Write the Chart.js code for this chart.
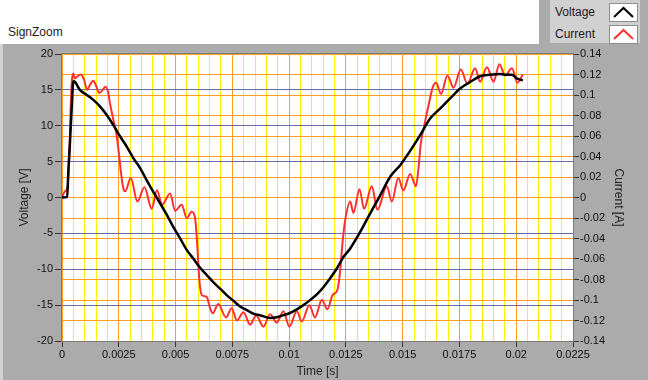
<!DOCTYPE html>
<html>
<head>
<meta charset="utf-8">
<script src="https://cdn.jsdelivr.net/npm/chart.js@4.4.1/dist/chart.umd.min.js"></script>
<style>
  html, body { margin: 0; padding: 0; background: #fff; }
  body { width: 648px; height: 380px; position: relative; overflow: hidden;
         font-family: "Liberation Sans", Arial, sans-serif; color: #1b1b1b; }
  #graphName { position: absolute; left: 8px; top: 25px; font-size: 12px; }
  #panel { position: absolute; left: 0; top: 44px; width: 648px; height: 336px; background: #ababab; }
  #panel .edge { position: absolute; left: 0; top: 0; width: 3px; height: 336px; background: #d2d2d2; }
  #panel canvas { position: absolute; left: 0; top: 0; }
  #legend { position: absolute; left: 539px; top: 0; width: 109px; height: 45px; background: #ababab; }
  #legendInner { position: absolute; left: 11px; top: 0; width: 90px; height: 43px; background: #d0d0d0; }
  .row { position: absolute; left: 5px; font-size: 12px; }
  .row span { position: absolute; left: 0; top: 0; }
  .row svg { position: absolute; left: 54px; top: 0; background: #fff; border: 1px solid #8c8c8c; }
</style>
</head>
<body>
<div id="graphName">SignZoom</div>
<div id="legend">
  <div id="legendInner">
    <div class="row" style="top:3px"><span style="top:2px">Voltage</span>
      <svg width="27" height="17"><polyline points="4,13 13.5,4 23,13" fill="none" stroke="#000" stroke-width="2"/></svg></div>
    <div class="row" style="top:25px"><span style="top:2px">Current</span>
      <svg width="27" height="17"><polyline points="4,13 13.5,4 23,13" fill="none" stroke="#ff3333" stroke-width="2"/></svg></div>
  </div>
</div>
<div id="panel"><div class="edge"></div><canvas id="graph" width="648" height="336"></canvas></div>

<script>
// Voltage trace (black, left axis) - time [s] / voltage [V]
const timeV = [0, 0.00023, 0.00028, 0.00035, 0.00043, 0.0005, 0.00057, 0.00079, 0.00109, 0.00138, 0.00167,
  0.00197, 0.00226, 0.00256, 0.00285, 0.00314, 0.00344, 0.00373, 0.00402, 0.00432, 0.00461,
  0.0049, 0.0052, 0.00549, 0.00578, 0.00608, 0.00637, 0.00666, 0.00696, 0.00725, 0.00755,
  0.00784, 0.00814, 0.00843, 0.00872, 0.00916, 0.00946, 0.00975, 0.01004, 0.01034, 0.01063,
  0.01092, 0.01122, 0.01151, 0.0118, 0.0121, 0.01239, 0.01269, 0.01313, 0.01357, 0.01401,
  0.01445, 0.01489, 0.01533, 0.01577, 0.01621, 0.01665, 0.01709, 0.01753, 0.01797, 0.01841,
  0.01885, 0.01929, 0.01959, 0.01981, 0.02003, 0.02029];
const voltage = [0, 0.1, 3.8, 7.6, 12.7, 16.2, 16.1, 15.0, 14.3, 13.6, 12.7,
  11.5, 10.1, 8.5, 7.1, 5.5, 4.1, 2.4, 0.8, -0.8, -2.4,
  -4.1, -5.7, -7.3, -8.5, -9.8, -10.8, -11.8, -12.7, -13.6, -14.4,
  -15.2, -15.7, -16.2, -16.4, -16.8, -16.7, -16.4, -16.1, -15.6, -15.0,
  -14.3, -13.5, -12.5, -11.3, -9.9, -8.3, -7.1, -4.8, -2.2, 0.3,
  2.9, 4.5, 6.5, 8.7, 11.0, 12.4, 13.8, 15.2, 16.1, 16.9,
  17.1, 17.2, 17.1, 17.1, 16.6, 16.3];

// Current trace (red, right axis) - time [s] / current [A]
const timeI = [0, 0.00013, 0.00023, 0.00032, 0.00038, 0.00044, 0.0005, 0.00057, 0.00067, 0.00082,
  0.00097, 0.00111, 0.00123, 0.00138, 0.0015, 0.00164, 0.00176, 0.00191, 0.00204, 0.00211,
  0.00226, 0.00241, 0.00252, 0.0026, 0.0027, 0.00278, 0.00303, 0.00332, 0.00363, 0.00395,
  0.00418, 0.00441, 0.00476, 0.00498, 0.00527, 0.00549, 0.00571, 0.00586, 0.00596, 0.00605,
  0.00615, 0.00637, 0.00652, 0.00664, 0.00688, 0.00722, 0.00747, 0.0077, 0.00799, 0.00828,
  0.00855, 0.00887, 0.00916, 0.00946, 0.00975, 0.01001, 0.01034, 0.01056, 0.01089, 0.01114,
  0.01144, 0.01169, 0.01192, 0.01213, 0.01225, 0.01236, 0.01247, 0.01269, 0.01283, 0.0131,
  0.0133, 0.01364, 0.01389, 0.0143, 0.01452, 0.01481, 0.01503, 0.01533, 0.01559, 0.01569,
  0.0158, 0.01594, 0.01613, 0.01633, 0.01647, 0.01669, 0.01697, 0.01724, 0.01756, 0.01785,
  0.01819, 0.01841, 0.01871, 0.019, 0.01926, 0.01951, 0.01981, 0.02005, 0.02029];
const current = [0, 0.006, 0.009, 0.037, 0.086, 0.115, 0.121, 0.116, 0.118, 0.120,
  0.115, 0.105, 0.110, 0.114, 0.109, 0.102, 0.104, 0.108, 0.102, 0.092,
  0.076, 0.060, 0.040, 0.024, 0.009, 0.006, 0.019, -0.004, 0.010, -0.011,
  0.007, -0.007, 0.004, -0.013, -0.007, -0.020, -0.014, -0.020, -0.048, -0.081,
  -0.095, -0.097, -0.108, -0.113, -0.104, -0.117, -0.108, -0.120, -0.112, -0.124,
  -0.115, -0.126, -0.114, -0.122, -0.111, -0.126, -0.111, -0.121, -0.105, -0.117,
  -0.100, -0.109, -0.095, -0.090, -0.071, -0.042, -0.022, -0.004, -0.015, 0.008,
  -0.011, 0.011, -0.012, 0.011, -0.004, 0.019, 0.007, 0.023, 0.011, 0.027,
  0.053, 0.069, 0.089, 0.108, 0.112, 0.101, 0.119, 0.107, 0.125, 0.111,
  0.126, 0.113, 0.127, 0.113, 0.130, 0.119, 0.126, 0.112, 0.120];

// axis ranges
const timeRange = [0, 0.0225], timeMinor = 0.0005, timeMajor = 0.0025;
const voltRange = [-20, 20], voltStep = 5;
const currRange = [-0.14, 0.14], currStep = 0.02;

const TICK_FONT = { family: 'Liberation Sans', size: 11 };
const TITLE_FONT = { family: 'Liberation Sans', size: 12 };
const MINOR_GRID = '#fff200', MAJOR_GRID = '#ff9f1f', VOLT_GRID = '#6a6aa8';

const toPoints = (xs, ys) => xs.map((x, i) => ({ x, y: ys[i] }));
const isMajor = (v) => Math.abs(v / timeMajor - Math.round(v / timeMajor)) < 1e-6;

// white plot area + thin frame
const plotFrame = {
  id: 'plotFrame',
  beforeDraw(chart) {
    const { ctx, chartArea: a } = chart;
    ctx.save();
    ctx.fillStyle = '#fff';
    ctx.fillRect(a.left, a.top, a.width, a.height);
    ctx.restore();
  },
  afterDraw(chart) {
    const { ctx, chartArea: a } = chart;
    ctx.save();
    ctx.strokeStyle = '#7b7b7b';
    ctx.lineWidth = 1;
    ctx.strokeRect(Math.round(a.left) - 0.5, Math.round(a.top) - 0.5, Math.round(a.width) + 1, Math.round(a.height) + 1);
    ctx.restore();
  }
};

new Chart(document.getElementById('graph'), {
  type: 'line',
  data: {
    datasets: [
      { label: 'Voltage', data: toPoints(timeV, voltage), yAxisID: 'y', borderColor: '#000',
        borderWidth: 2.5, pointRadius: 0, cubicInterpolationMode: 'monotone' },
      { label: 'Current', data: toPoints(timeI, current), yAxisID: 'y1', borderColor: '#ff3030',
        borderWidth: 2, pointRadius: 0, cubicInterpolationMode: 'monotone' }
    ]
  },
  options: {
    responsive: false,
    animation: false,
    layout: { padding: { top: 10 } },
    plugins: { legend: { display: false }, tooltip: { enabled: false } },
    scales: {
      x: {
        type: 'linear', min: timeRange[0], max: timeRange[1],
        afterFit: (s) => { s.height = 39; },
        border: { display: false },
        grid: {
          color: (c) => isMajor(c.tick.value) ? MAJOR_GRID : MINOR_GRID,
          tickColor: (c) => isMajor(c.tick.value) ? '#333' : 'rgba(0,0,0,0)',
          tickLength: 6
        },
        ticks: {
          stepSize: timeMinor, autoSkip: false, maxRotation: 0, padding: 1,
          color: '#111', font: TICK_FONT,
          callback: (v) => isMajor(v) ? String(+v.toFixed(4)) : ''
        },
        title: { display: true, text: 'Time [s]', color: '#222', font: TITLE_FONT, padding: { top: 0, bottom: 1 } }
      },
      y: {
        position: 'left', min: voltRange[0], max: voltRange[1],
        afterFit: (s) => { s.width = 62; },
        border: { display: false },
        grid: { color: VOLT_GRID, tickColor: '#333', tickLength: 7 },
        ticks: { stepSize: voltStep, padding: 2, color: '#111', font: TICK_FONT },
        title: { display: true, text: 'Voltage [V]', color: '#222', font: TITLE_FONT, padding: { top: 17, bottom: 0 } }
      },
      y1: {
        position: 'right', min: currRange[0], max: currRange[1],
        afterFit: (s) => { s.width = 75; },
        border: { display: false },
        grid: { color: MAJOR_GRID, tickColor: '#333', tickLength: 6 },
        ticks: { stepSize: currStep, padding: 1, color: '#111', font: TICK_FONT,
          callback: (v) => String(+v.toFixed(2)) },
        title: { display: true, text: 'Current [A]', color: '#222', font: TITLE_FONT, padding: { top: 22, bottom: 0 } }
      }
    }
  },
  plugins: [plotFrame]
});
</script>
</body>
</html>
